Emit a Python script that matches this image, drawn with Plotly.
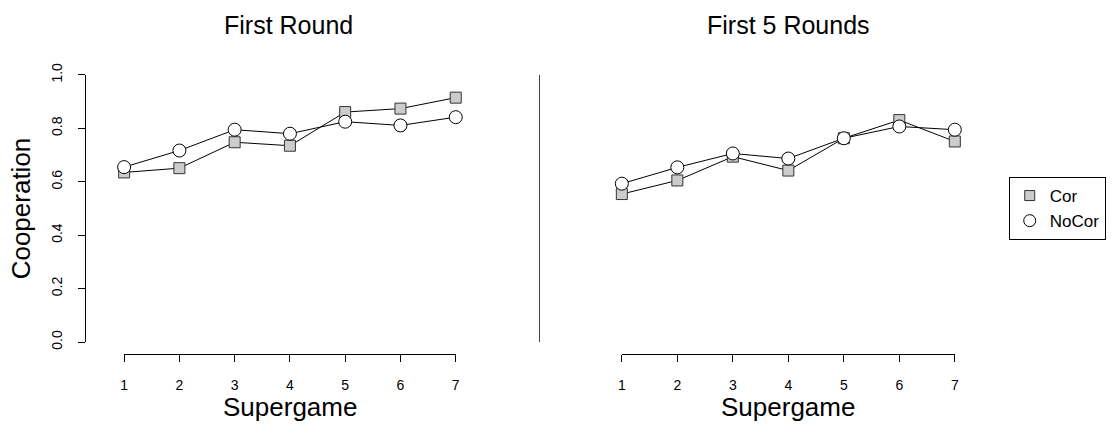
import plotly.graph_objects as go

supergame = [1, 2, 3, 4, 5, 6, 7]
first_round_cor = [0.635, 0.651, 0.748, 0.735, 0.861, 0.874, 0.915]
first_round_nocor = [0.655, 0.717, 0.795, 0.780, 0.825, 0.811, 0.842]
first5_cor = [0.554, 0.605, 0.694, 0.642, 0.763, 0.831, 0.751]
first5_nocor = [0.593, 0.654, 0.706, 0.687, 0.763, 0.807, 0.795]
y_ticks = [0.0, 0.2, 0.4, 0.6, 0.8, 1.0]
y_tick_labels = ["0.0", "0.2", "0.4", "0.6", "0.8", "1.0"]
series_names = ["Cor", "NoCor"]

W, H = 1114, 433
FONT = "Liberation Sans, Arial, Helvetica, sans-serif"

def px(x):
    return x / W

def py(y):
    return 1 - y / H

sq = dict(symbol="square", size=11, color="#cccccc", line=dict(color="#333333", width=1))
ci = dict(symbol="circle", size=13, color="white", line=dict(color="black", width=1))
ln = dict(color="black", width=1)

fig = go.Figure()
for xa, ya, cor, nocor in [("x", "y", first_round_cor, first_round_nocor),
                           ("x2", "y2", first5_cor, first5_nocor)]:
    fig.add_trace(go.Scatter(x=supergame, y=cor, mode="lines+markers", name=series_names[0],
                             showlegend=False, marker=sq, line=ln, xaxis=xa, yaxis=ya, cliponaxis=False))
    fig.add_trace(go.Scatter(x=supergame, y=nocor, mode="lines+markers", name=series_names[1],
                             showlegend=False, marker=ci, line=ln, xaxis=xa, yaxis=ya, cliponaxis=False))

# legend-only entries (markers only, like the reference legend)
fig.add_trace(go.Scatter(x=[None], y=[None], mode="markers", name=series_names[0],
                         marker=dict(symbol="square", size=10, color="#cccccc",
                                     line=dict(color="#333333", width=1)),
                         xaxis="x", yaxis="y"))
fig.add_trace(go.Scatter(x=[None], y=[None], mode="markers", name=series_names[1],
                         marker=dict(symbol="circle", size=12, color="white",
                                     line=dict(color="black", width=1)),
                         xaxis="x", yaxis="y"))

ydom = [py(346), py(66)]
axis_common = dict(showgrid=False, zeroline=False, showline=True, linecolor="black", linewidth=1,
                   ticks="outside", ticklen=7, tickwidth=1, tickcolor="black",
                   tickfont=dict(family=FONT, size=14, color="black"))

fig.update_layout(
    width=W, height=H, margin=dict(l=0, r=0, t=0, b=0),
    paper_bgcolor="white", plot_bgcolor="white",
    font=dict(family=FONT, color="black"),
    xaxis=dict(domain=[px(121), px(455)], range=[1, 7], anchor="free", position=py(359),
               tickvals=supergame, ticklabelstandoff=11, **axis_common),
    yaxis=dict(domain=ydom, range=[0, 1], anchor="free", position=px(82),
               tickvals=y_ticks, ticktext=y_tick_labels, tickangle=-90, ticklabelstandoff=11, **axis_common),
    xaxis2=dict(domain=[px(622.3), px(957.7)], range=[1, 7], anchor="free", position=py(359),
                tickvals=supergame, ticklabelstandoff=11, **axis_common),
    yaxis2=dict(domain=ydom, range=[0, 1], anchor="free", position=px(539),
                showgrid=False, zeroline=False, showline=True, linecolor="#444444", linewidth=1,
                ticks="", showticklabels=False),
    legend=dict(x=px(1012), y=py(173), xanchor="left", yanchor="top",
                bordercolor="black", borderwidth=1, bgcolor="white",
                font=dict(family=FONT, size=17, color="black"),
                itemwidth=30),
    showlegend=True,
)

annotations = [
    dict(text="First Round", x=px(287), y=py(14), size=25),
    dict(text="First 5 Rounds", x=px(790), y=py(14), size=25),
    dict(text="Supergame", x=px(288), y=py(414), size=26),
    dict(text="Supergame", x=px(790), y=py(414), size=26),
]
for a in annotations:
    fig.add_annotation(text=a["text"], x=a["x"], y=a["y"], xref="paper", yref="paper",
                       showarrow=False, xanchor="center", yanchor="middle", borderpad=0,
                       font=dict(family=FONT, size=a["size"], color="black"))
fig.add_annotation(text="Cooperation", x=px(18), y=py(206), xref="paper", yref="paper",
                   showarrow=False, textangle=-90, xanchor="center", yanchor="middle", borderpad=0,
                   font=dict(family=FONT, size=26, color="black"))

fig.write_html("out.html")
